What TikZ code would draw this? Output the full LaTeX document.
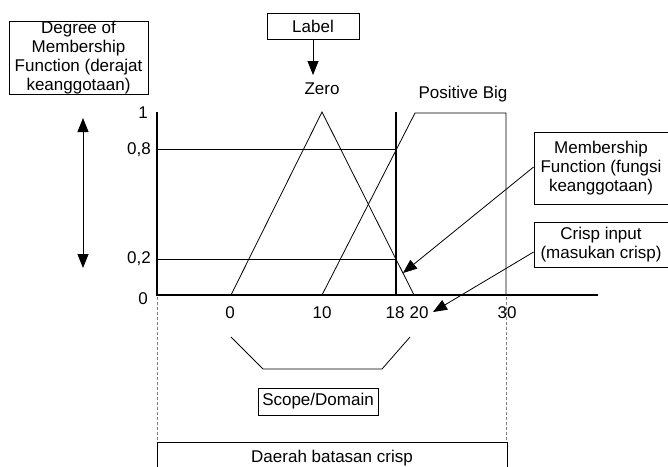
\documentclass[tikz,border=0pt]{standalone}
\usepackage{fontspec}
\setmainfont{Liberation Sans}
\usetikzlibrary{arrows.meta}
\begin{document}
\begin{tikzpicture}[x=1pt,y=-1pt,
  txt/.style={inner sep=0pt,font=\fontsize{17}{19}\selectfont},
  box/.style={draw,line width=0.8pt,inner sep=0pt,font=\fontsize{17}{19}\selectfont,align=center},
  thin/.style={line width=0.8pt},
  thick axis/.style={line width=2.6pt},
  arr/.style={line width=0.8pt,-{Triangle[length=14pt,width=11pt]}},
  darr/.style={line width=0.8pt,{Triangle[length=14pt,width=11pt]}-{Triangle[length=14pt,width=11pt]}},
  guide/.style={gray,dashed,line width=0.6pt,dash pattern=on 3pt off 2pt}]
\useasboundingbox (0,0) rectangle (668,466);
\clip (0,0) rectangle (668,466);
% graph coordinates
\coordinate (o) at (157,295);
\coordinate (ytop) at (157,112);
\coordinate (xend) at (598,295);
\coordinate (z0) at (231,295);
\coordinate (zpk) at (322,112);
\coordinate (z20) at (414,295);
\coordinate (p10) at (322,295);
\coordinate (p20) at (415,113);
\coordinate (p30t) at (506,113);
\coordinate (p30) at (506,295);
\coordinate (c18t) at (396,112);
\coordinate (c18) at (396,295);
\coordinate (h8a) at (157,149);
\coordinate (h8b) at (396,149);
\coordinate (h2a) at (157,259);
\coordinate (h2b) at (396,259);
% boxes
\node[box,minimum width=139pt,minimum height=73pt] (deg) at (78.5,57.5)
  {Degree of\\Membership\\Function (derajat\\keanggotaan)};
\node[box,minimum width=92pt,minimum height=26pt] (lab) at (313,26) {Label};
\node[txt] (zero) at (322,89) {Zero};
\node[txt] (pb) at (463,94) {Positive Big};
\node[box,minimum width=134pt,minimum height=72pt] (mf) at (601,168)
  {Membership\\Function (fungsi\\keanggotaan)};
\node[box,minimum width=134pt,minimum height=45pt] (ci) at (601,244.5)
  {Crisp input\\(masukan crisp)};
\node[box,minimum width=120pt,minimum height=27pt] (sd) at (318,401.5) {Scope/Domain};
\node[box,minimum width=350pt,minimum height=40pt,anchor=north,text depth=0pt] (dbc) at (332,442) {};
\node[txt] (dbct) at (332,458) {Daerah batasan crisp};
% y labels
\node[txt,anchor=east] (y1) at (148,113) {1};
\node[txt,anchor=east] (y8) at (151,150) {0,8};
\node[txt,anchor=east] (y2) at (151,259) {0,2};
\node[txt,anchor=east] (y0) at (148,299) {0};
% x labels
\node[txt] (x0) at (230,313) {0};
\node[txt] (x10) at (322,313) {10};
\node[txt] (x18) at (395,313) {18};
\node[txt] (x20) at (419,313) {20};
\node[txt] (x30) at (507,313) {30};
% membership functions
\draw[thin] (z0) -- (zpk) -- (z20);
\draw[thin] (p10) -- (p20) -- (p30t) -- (p30);
\draw[thin] (h8a) -- (h8b);
\draw[thin] (h2a) -- (h2b);
\draw[thick axis] (ytop) -- (o) -- (xend);
\draw[thick axis] (c18t) -- (c18);
% guides
\draw[guide] (157,297) -- (157,442);
\draw[guide] (506,297) -- (506,442);
% scope bracket
\coordinate (s1) at (231,337);
\coordinate (s2) at (263,369);
\coordinate (s3) at (382,369);
\coordinate (s4) at (410,337);
\draw[thin] (s1) -- (s2) -- (s3) -- (s4);
% arrows
\coordinate (lt) at (313,75);
\draw[arr] (lab.south) -- (lt);
\coordinate (da) at (83,118);
\coordinate (db) at (83,268);
\draw[darr] (da) -- (db);
\coordinate (mft) at (403,273);
\draw[arr] (mf.west |- 0,167) -- (mft);
\coordinate (cit) at (433,312);
\draw[arr] (ci.west |- 0,252) -- (cit);
\end{tikzpicture}
\end{document}
